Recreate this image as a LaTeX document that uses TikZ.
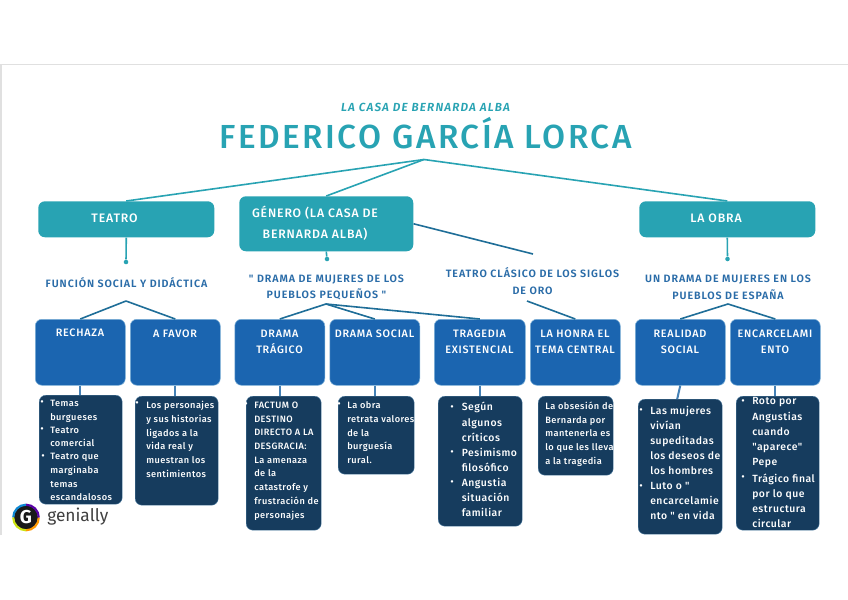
\documentclass[tikz,border=0pt]{standalone}
\usepackage{fontspec}
\setmainfont{Fira Sans}
\newfontfamily\spaced[LetterSpace=5]{Fira Sans Medium}
\newfontfamily\spacedb[LetterSpace=7]{Fira Sans Medium}
\newfontfamily\spacedc[LetterSpace=8.5]{Fira Sans SemiBold}
\newfontfamily\subf[LetterSpace=10]{Fira Sans SemiBold Italic}
\newfontfamily\titlef[LetterSpace=7.5]{Fira Sans Medium}
\definecolor{teal1}{HTML}{28A3B3}
\definecolor{blue1}{HTML}{1B65B0}
\definecolor{navy1}{HTML}{163C5E}
\definecolor{head1}{HTML}{2A6CA8}
\definecolor{edge1}{HTML}{7FB2D8}
\definecolor{line1}{HTML}{1F6E98}
\tikzset{
 x=0.75pt,y=-0.75pt,
 tealbox/.style={fill=teal1,rounded corners=5pt,draw=none},
 bluebox/.style={fill=blue1,draw=edge1,line width=0.4pt,rounded corners=5pt},
 navybox/.style={fill=navy1,draw=edge1!60!navy1,line width=0.3pt,rounded corners=5pt},
 tealtxt/.style={text=white,font=\spacedb\fontsize{9.2}{15.4}\selectfont,align=center},
 bluetxt/.style={text=white,font=\spacedb\fontsize{8.1}{12}\selectfont,align=center,anchor=north},
 bodytxt/.style={text=white,font=\spaced\fontsize{6.9}{10.3}\selectfont,align=left,anchor=north west,inner sep=0pt},
 bodybig/.style={text=white,font=\spaced\fontsize{7.8}{11.4}\selectfont,align=left,anchor=north west,inner sep=0pt},
 headtxt/.style={text=head1,font=\spacedc\fontsize{8}{12.5}\selectfont,align=center},
 tealline/.style={draw=teal1,line width=1.2pt},
 blueline/.style={draw=line1,line width=1.2pt},
 stub/.style={draw=head1!70!edge1,line width=1.5pt},
 dotm/.style={circle,fill=teal1,inner sep=0pt,minimum size=3.4pt},
}
\newcommand{\bx}[6]{\node[#2,anchor=north west,inner sep=0pt,minimum width=#5*0.75pt,minimum height=#6*0.75pt] (#1) at (#3,#4) {};}
\newcommand{\bul}[2]{\node[text=white,font=\fontsize{8}{8}\selectfont,inner sep=0pt] at (#1,#2) {•};}
\begin{document}
\begin{tikzpicture}
\useasboundingbox (0,0) rectangle (848,599);
\fill[white] (0,0) rectangle (848,599);
\draw[black!12,line width=0.8pt] (1,535) -- (1,64.5) -- (848,64.5);

% title
\node[text=teal1,font=\subf\fontsize{8.8}{9}\selectfont] (sub) at (425.5,107) {LA CASA DE BERNARDA ALBA};
\node[text=teal1,font=\titlef\fontsize{25}{26}\selectfont,inner sep=0pt] (title) at (425.5,133.5) {FEDERICO GARCÍA LORCA};
\coordinate (hub) at (424,159.5);

% top boxes
\bx{teatro}{tealbox}{38}{201}{176}{36}
\bx{genero}{tealbox}{239}{196}{174}{55}
\bx{obra}{tealbox}{639}{201}{176}{36}
\node[tealtxt] at (114.5,218) {TEATRO};
\node[tealtxt] at (315,223) {GÉNERO (LA CASA DE\\BERNARDA ALBA)};
\node[tealtxt] at (716,218) {LA OBRA};

\draw[tealline] (hub) -- (teatro.north);
\draw[tealline] (hub) -- (genero.north);
\draw[tealline] (hub) -- (obra.north);

\node[dotm] (d1) at (126,262) {};
\node[dotm] (d2) at (327,259) {};
\node[dotm] (d3) at (727.5,259) {};
\draw[tealline] (teatro.south) -- (d1);
\draw[tealline] (genero.south) -- (d2);
\draw[tealline] (obra.south) -- (d3);

\coordinate (gend) at (533,254);
\draw[blueline] (genero.east) -- (gend);

% headings
\node[headtxt] (h1) at (126.5,283) {FUNCIÓN SOCIAL Y DIDÁCTICA};
\node[headtxt] (h2) at (326.5,287.5) {" DRAMA DE MUJERES DE LOS\\PUEBLOS PEQUEÑOS "};
\node[headtxt] (h3) at (532.5,281) {TEATRO CLÁSICO DE LOS SIGLOS\\DE ORO};
\node[headtxt] (h4) at (728,287.5) {UN DRAMA DE MUJERES EN LOS\\PUEBLOS DE ESPAÑA};

% blue boxes
\bx{rech}{bluebox}{35}{319}{90}{66}
\bx{afav}{bluebox}{130}{319}{90}{66}
\bx{trag}{bluebox}{234.5}{319}{90}{66}
\bx{soc}{bluebox}{329.5}{319}{90}{66}
\bx{exis}{bluebox}{434}{319}{91}{66}
\bx{honr}{bluebox}{530}{319}{90}{66}
\bx{real}{bluebox}{635}{319}{90}{66}
\bx{enc}{bluebox}{730}{319}{90}{66}

\node[bluetxt] at (80,324) {RECHAZA};
\node[bluetxt] at (175,325) {A FAVOR};
\node[bluetxt] at (279.5,325) {DRAMA\\TRÁGICO};
\node[bluetxt] at (374.5,325) {DRAMA SOCIAL};
\node[bluetxt] at (479.5,325) {TRAGEDIA\\EXISTENCIAL};
\node[bluetxt] at (575,325) {LA HONRA EL\\TEMA CENTRAL};
\node[bluetxt] at (680,325) {REALIDAD\\SOCIAL};
\node[bluetxt] at (775,325) {ENCARCELAMI\\ENTO};

% apexes
\coordinate (a1) at (126,301);
\coordinate (a2) at (326,304);
\coordinate (a3) at (527,301);
\coordinate (a4) at (728,304);
\draw[blueline] (a1) -- (rech.north);
\draw[blueline] (a1) -- (afav.north);
\draw[blueline] (a2) -- (trag.north);
\draw[blueline] (a2) -- (soc.north);
\draw[blueline] (a2) -- (exis.north);
\draw[blueline] (a3) -- (honr.north);
\draw[blueline] (a4) -- (real.north);
\draw[blueline] (a4) -- (enc.north);

% navy boxes
\bx{n1}{navybox}{39}{395}{83}{109}
\bx{n2}{navybox}{135}{396}{83}{109}
\bx{n3}{navybox}{246}{396}{75}{134}
\bx{n4}{navybox}{338}{396}{76}{78}
\bx{n5}{navybox}{438}{396}{84}{130}
\bx{n6}{navybox}{538}{396}{75}{79}
\bx{n7}{navybox}{638}{399}{84}{135}
\bx{n8}{navybox}{736}{396}{83}{134}

\draw[stub] (rech.south) -- (rech.south |- n1.north);
\draw[stub] (afav.south) -- (afav.south |- n2.north);
\draw[stub] (trag.south) -- (trag.south |- n3.north);
\draw[stub] (soc.south) -- (soc.south |- n4.north);
\draw[stub] (exis.south) -- (exis.south |- n5.north);
\draw[stub] (real.south) -- ([xshift=-2.25pt]n7.north);
\draw[stub] (enc.south) -- (enc.south |- n8.north);

% body text
\bul{42}{403}\bul{42}{430}\bul{43}{457}
\node[bodytxt] at (50,400) {Temas\\burgueses};
\node[bodytxt] at (50,426.5) {Teatro\\comercial};
\node[bodytxt] at (50,453) {Teatro que\\marginaba\\temas\\escandalosos};
\bul{137}{404}
\node[bodytxt] at (146,401) {Los personajes\\y sus historias\\ligados a la\\vida real y\\muestran los\\sentimientos};
\bul{246}{405}
\node[bodytxt] at (254,401.5) {FACTUM O\\DESTINO\\DIRECTO A LA\\DESGRACIA:\\La amenaza\\de la\\catastrofe y\\frustración de\\personajes};
\bul{339}{405}
\node[bodytxt] at (347,401.5) {La obra\\retrata valores\\de la\\burguesía\\rural.};
\bul{452}{408}\bul{452}{453}\bul{452}{483}
\node[bodybig] at (461.5,402) {Según\\algunos\\críticos};
\node[bodybig] at (461.5,447.5) {Pesimismo\\filosófico};
\node[bodybig] at (461.5,478) {Angustia\\situación\\familiar};
\node[bodytxt] at (545,401.5) {La obsesión de\\Bernarda por\\mantenerla es\\lo que les lleva\\a la tragedia};
\bul{641}{411}\bul{641}{487}
\node[bodybig] at (650,405.5) {Las mujeres\\vivían\\supeditadas\\los deseos de\\los hombres};
\node[bodybig] at (650,482) {Luto o "\\encarcelamie\\nto " en vida};
\bul{743}{402}\bul{743}{478}
\node[bodybig] at (752,397.5) {Roto por\\Angustias\\cuando\\"aparece"\\Pepe};
\node[bodybig] at (752,473.5) {Trágico final\\por lo que\\estructura\\circular};

% logo
\node[circle,draw=none,inner sep=0pt,minimum size=18pt,fill=black!90] (logo) at (26,517.5) {};
\draw[line width=1.6pt,draw=orange!80!yellow] (26,517.5) ++(90:12.8) arc[start angle=90,end angle=0,radius=12.8];
\draw[line width=1.6pt,draw=violet!70!blue] (26,517.5) ++(0:12.8) arc[start angle=0,end angle=-90,radius=12.8];
\draw[line width=1.6pt,draw=cyan!70!blue] (26,517.5) ++(-90:12.8) arc[start angle=-90,end angle=-180,radius=12.8];
\draw[line width=1.6pt,draw=yellow!80!green] (26,517.5) ++(180:12.8) arc[start angle=180,end angle=90,radius=12.8];
\node[text=white,font=\fontsize{14}{14}\selectfont\bfseries,inner sep=0pt] at (logo.center) {G};
\node[text=black!75,font=\fontsize{13}{13}\selectfont,anchor=west,inner sep=0pt] (glabel) at (47,517) {genially};
\end{tikzpicture}
\end{document}
